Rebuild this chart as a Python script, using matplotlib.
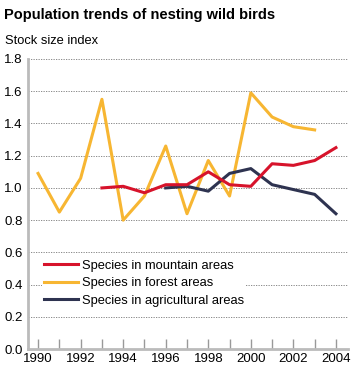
import matplotlib
matplotlib.use("Agg")
import matplotlib.pyplot as plt

plt.rcParams['font.family'] = ['Liberation Sans', 'DejaVu Sans']

years_mountain = [1993, 1994, 1995, 1996, 1997, 1998, 1999, 2000, 2001, 2002, 2003, 2004]
mountain = [1.00, 1.01, 0.97, 1.02, 1.02, 1.10, 1.02, 1.01, 1.15, 1.14, 1.17, 1.25]

years_forest = list(range(1990, 2004))
forest = [1.09, 0.85, 1.06, 1.55, 0.80, 0.95, 1.26, 0.84, 1.17, 0.95, 1.59, 1.44, 1.38, 1.36]

years_agri = list(range(1996, 2005))
agri = [1.00, 1.01, 0.98, 1.09, 1.12, 1.02, 0.99, 0.96, 0.84]

yticks = [0.0, 0.2, 0.4, 0.6, 0.8, 1.0, 1.2, 1.4, 1.6, 1.8]
xlabels = [1990, 1992, 1994, 1996, 1998, 2000, 2002, 2004]

fig = plt.figure(figsize=(3.51, 3.71), dpi=100)
ax = fig.add_axes([0.08, 0.059, 0.911, 0.782])

ax.plot(years_mountain, mountain, color='#d7132b', lw=2.2, label='Species in mountain areas', zorder=3)
ax.plot(years_forest, forest, color='#f7b632', lw=2.2, label='Species in forest areas', zorder=2)
ax.plot(years_agri, agri, color='#2e3350', lw=2.2, label='Species in agricultural areas', zorder=2)

ax.set_xlim(1989.53, 2004.56)
ax.set_ylim(0, 1.8)
ax.set_yticks(yticks)
ax.set_yticklabels([f'{v:.1f}' for v in yticks], fontsize=9.5)
ax.set_xticks(range(1990, 2005))
ax.set_xticklabels([str(y) if y in xlabels else '' for y in range(1990, 2005)], fontsize=9.5)
ax.tick_params(axis='x', direction='in', length=7, color='#999999', width=1, pad=3)
ax.tick_params(axis='y', length=0, pad=4)
ax.grid(axis='y', color='#777777', ls=(0, (1.5, 1.5)), lw=0.6)
ax.set_axisbelow(True)
for s in ['top', 'right']:
    ax.spines[s].set_visible(False)
ax.spines['left'].set_color('#bbbbbb')
ax.spines['left'].set_linewidth(2)
ax.spines['bottom'].set_color('#bbbbbb')
ax.spines['bottom'].set_linewidth(2)

leg = ax.legend(loc='lower left', bbox_to_anchor=(0.045, 0.14), fontsize=9.3, frameon=True,
                handlelength=2.6, handletextpad=0.3, labelspacing=0.42, borderpad=0.15,
                borderaxespad=0)
leg.get_frame().set_edgecolor('none')
leg.get_frame().set_facecolor('white')
leg.get_frame().set_alpha(1)

fig.text(0.011, 0.978, 'Population trends of nesting wild birds', fontsize=10.5, fontweight='bold', va='top')
fig.text(0.014, 0.905, 'Stock size index', fontsize=9.3, va='top')

fig.savefig('out.png', dpi=100)
